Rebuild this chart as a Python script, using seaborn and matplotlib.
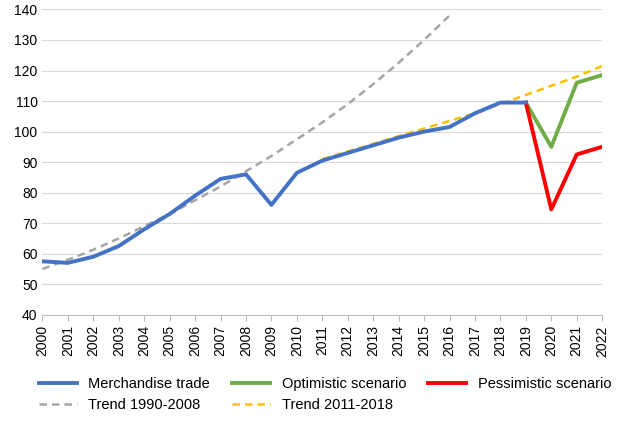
import matplotlib
matplotlib.use("Agg")
import matplotlib.pyplot as plt
import seaborn as sns
import pandas as pd

years = list(range(2000, 2023))
merch_years = list(range(2000, 2020))
merch = [57.5, 57, 59, 62.5, 68, 73, 79, 84.5, 86, 76, 86.5, 90.5, 93, 95.5, 98, 100, 101.5, 106, 109.5, 109.5]
scen_years = [2019, 2020, 2021, 2022]
optimistic = [109.5, 95, 116, 118.5]
pessimistic = [109.5, 74.5, 92.5, 95]
trend1_years = list(range(2000, 2017))
trend1 = [55, 58, 61.3, 65, 69, 73, 77.5, 82, 87, 92, 97.5, 103, 109, 115.5, 122.5, 130, 138]
trend2_years = list(range(2011, 2023))
trend2 = [91, 93.5, 96, 98.5, 101, 103.5, 106, 109, 112, 115, 118, 121.5]

plt.rcParams["font.family"] = "Liberation Sans"
fig = plt.figure(figsize=(6.24, 4.30), dpi=100)
ax = fig.add_axes([0.068, 0.268, 0.897, 0.71])

sns.lineplot(x=trend1_years, y=trend1, ax=ax, color="#a6a6a6", lw=1.8, ls=(0, (3, 2)), label="Trend 1990-2008")
sns.lineplot(x=trend2_years, y=trend2, ax=ax, color="#ffc000", lw=1.8, ls=(0, (3, 2)), label="Trend 2011-2018")
sns.lineplot(x=scen_years, y=optimistic, ax=ax, color="#70ad47", lw=2.8, label="Optimistic scenario")
sns.lineplot(x=scen_years, y=pessimistic, ax=ax, color="#ff0000", lw=2.8, label="Pessimistic scenario")
sns.lineplot(x=merch_years, y=merch, ax=ax, color="#4472c4", lw=2.8, label="Merchandise trade")

ax.set_xlim(2000, 2022)
ax.set_ylim(40, 140)
ax.set_yticks(range(40, 141, 10))
ax.set_xticks(years)
ax.set_xticklabels([str(y) for y in years], rotation=90, fontsize=10)
ax.tick_params(axis="y", labelsize=10, length=0)
ax.tick_params(axis="x", length=4, color="#bfbfbf")
ax.grid(axis="y", color="#d9d9d9", lw=0.8)
ax.set_axisbelow(True)
for s in ["top", "right", "left"]:
    ax.spines[s].set_visible(False)
ax.spines["bottom"].set_color("#bfbfbf")
ax.set_xlabel(""); ax.set_ylabel("")

h, l = ax.get_legend_handles_labels()
order = [4, 0, 2, 1, 3]
ax.legend([h[i] for i in order], [l[i] for i in order], loc="upper left",
          bbox_to_anchor=(-0.03, -0.16), ncol=3, frameon=False, fontsize=10.5,
          handlelength=2.6, columnspacing=1.5)
fig.savefig("out.png", dpi=100)
